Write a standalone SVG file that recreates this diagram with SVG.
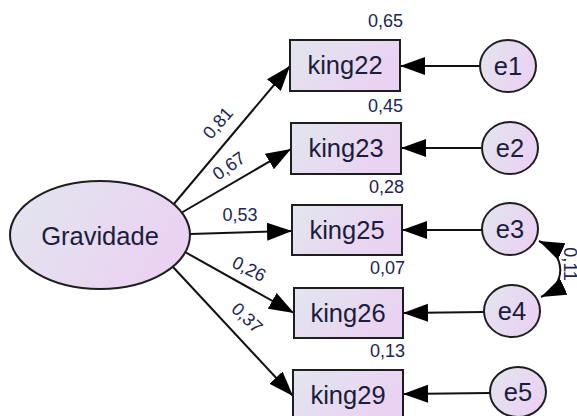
<svg xmlns="http://www.w3.org/2000/svg" width="577" height="416" viewBox="0 0 577 416">
<style>
.node{stroke:#1e1e1e;stroke-width:2;fill:url(#g)}
.nt{font-family:"Liberation Sans",Arial,sans-serif;font-size:25.5px;fill:#1c1c3c;text-anchor:middle}
.lbl{font-family:"Liberation Sans",Arial,sans-serif;font-size:18px;fill:#1c2550}
.lblc{font-family:"Liberation Sans",Arial,sans-serif;font-size:18px;fill:#1c2550;text-anchor:middle;dominant-baseline:central}
.edge{stroke:#111;stroke-width:2;fill:none;marker-end:url(#ah)}
</style>
<defs>
<linearGradient id="g" x1="0" y1="0" x2="1" y2="0.4">
<stop offset="0" stop-color="#e2e6ee"/>
<stop offset="1" stop-color="#ead2f2"/>
</linearGradient>
<marker id="ah" markerUnits="userSpaceOnUse" markerWidth="26" markerHeight="20" refX="25" refY="9" orient="auto-start-reverse" viewBox="0 0 26 20">
<path d="M0,0 L25,9 L0,18 z" fill="#000"/>
</marker>
</defs>
<rect width="577" height="416" fill="#fff"/>
<g id="connectors">
<line class="edge" x1="173" y1="205" x2="290" y2="66"/>
<line class="edge" x1="181" y1="213" x2="291" y2="149"/>
<line class="edge" x1="190" y1="234" x2="292" y2="231"/>
<line class="edge" x1="185" y1="252" x2="294" y2="313"/>
<line class="edge" x1="173" y1="267" x2="293" y2="396"/>
<line class="edge" x1="480" y1="66" x2="400" y2="66"/>
<line class="edge" x1="482" y1="148" x2="401" y2="148"/>
<line class="edge" x1="482" y1="230" x2="402" y2="230"/>
<line class="edge" x1="484" y1="312" x2="403" y2="313"/>
<line class="edge" x1="490" y1="393" x2="403" y2="394"/>
<path class="edge" d="M539,241 C567,254 567,285 541,297" style="marker-start:url(#ah)"/>
<text class="lblc" transform="translate(218,123) rotate(-49)">0,81</text>
<text class="lblc" transform="translate(229,166) rotate(-35)">0,67</text>
<text class="lblc" transform="translate(240,215)">0,53</text>
<text class="lblc" transform="translate(249,269) rotate(27)">0,26</text>
<text class="lblc" transform="translate(247,318) rotate(44)">0,37</text>
<text class="lbl" text-anchor="middle" transform="translate(564,264) rotate(90)">0,11</text>
</g>
<g id="Gravidade">
<ellipse class="node" cx="100" cy="235" rx="90" ry="54"/>
<text class="nt" x="100" y="245">Gravidade</text>
</g>
<g id="king22">
<rect class="node" x="290" y="40" width="110" height="51"/>
<text class="nt" x="345" y="74">king22</text>
<text class="lbl" x="403" y="27" text-anchor="end">0,65</text>
</g>
<g id="king23">
<rect class="node" x="291" y="123" width="110" height="51"/>
<text class="nt" x="346" y="157">king23</text>
<text class="lbl" x="403" y="112" text-anchor="end">0,45</text>
</g>
<g id="king25">
<rect class="node" x="292" y="205" width="110" height="50"/>
<text class="nt" x="347" y="239">king25</text>
<text class="lbl" x="404" y="193" text-anchor="end">0,28</text>
</g>
<g id="king26">
<rect class="node" x="294" y="288" width="109" height="50"/>
<text class="nt" x="348" y="322">king26</text>
<text class="lbl" x="405" y="274" text-anchor="end">0,07</text>
</g>
<g id="king29">
<rect class="node" x="293" y="370" width="110" height="50"/>
<text class="nt" x="348" y="404">king29</text>
<text class="lbl" x="405" y="357" text-anchor="end">0,13</text>
</g>
<g id="e1">
<ellipse class="node" cx="508" cy="66" rx="28" ry="26"/>
<text class="nt" x="508" y="75">e1</text>
</g>
<g id="e2">
<ellipse class="node" cx="510" cy="148" rx="28" ry="26"/>
<text class="nt" x="510" y="157">e2</text>
</g>
<g id="e3">
<ellipse class="node" cx="510" cy="229" rx="28" ry="26"/>
<text class="nt" x="510" y="238">e3</text>
</g>
<g id="e4">
<ellipse class="node" cx="512" cy="311" rx="28" ry="26"/>
<text class="nt" x="512" y="320">e4</text>
</g>
<g id="e5">
<ellipse class="node" cx="518" cy="392" rx="28" ry="25"/>
<text class="nt" x="518" y="401">e5</text>
</g>
</svg>
